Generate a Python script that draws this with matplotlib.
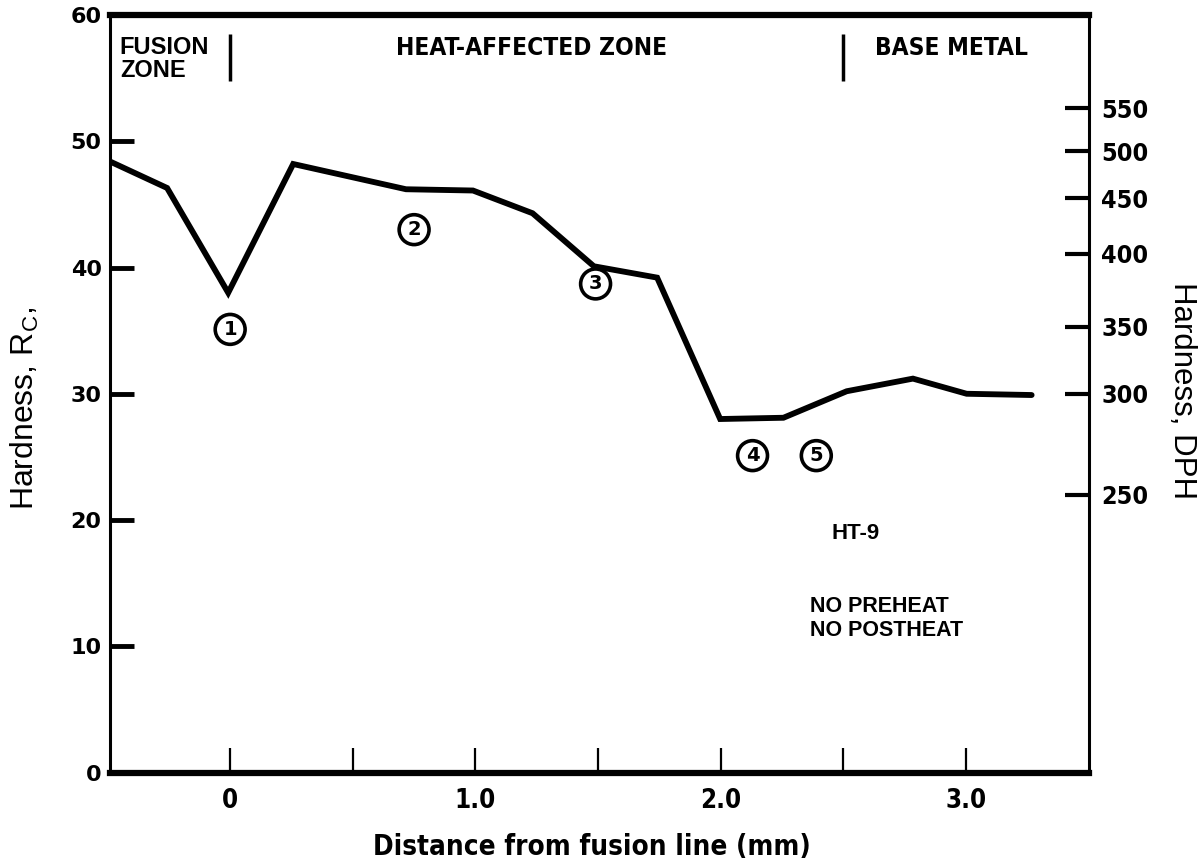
import matplotlib
matplotlib.use("Agg")
import matplotlib.pyplot as plt
from matplotlib.ticker import FixedLocator

# ---- data ----
distance_mm = [-0.49, -0.257, -0.008, 0.257, 0.717, 0.99, 1.233, 1.483, 1.741, 1.998, 2.256, 2.514, 2.784, 3.003, 3.268]
hardness_rc = [48.4, 46.3, 38.0, 48.2, 46.2, 46.1, 44.3, 40.1, 39.2, 28.0, 28.1, 30.2, 31.2, 30.0, 29.9]

x_ticks_major = [0, 1.0, 2.0, 3.0]
x_tick_labels = ["0", "1.0", "2.0", "3.0"]
x_ticks_minor = [0.5, 1.5, 2.5]
y_ticks = [0, 10, 20, 30, 40, 50, 60]

dph_labels = ["250", "300", "350", "400", "450", "500", "550"]
dph_rc_positions = [22.0, 30.0, 35.3, 41.1, 45.5, 49.2, 52.6]

zone_bounds = [0.0, 2.5]

marker_labels = ["1", "2", "3", "4", "5"]
marker_x = [0.0, 0.75, 1.49, 2.13, 2.39]
marker_y = [35.1, 43.0, 38.7, 25.1, 25.1]

BOLDF = ["DejaVu Sans"]
ARIAL = ["Liberation Sans", "DejaVu Sans"]

fig = plt.figure(figsize=(12.02, 8.64), dpi=100)
ax = fig.add_axes([0.0915, 0.1059, 0.9056 - 0.0915, 0.9826 - 0.1059])

ax.plot(distance_mm, hardness_rc, color="black", lw=4.2, solid_joinstyle="miter", solid_capstyle="round")

ax.set_xlim(-0.49, 3.5)
ax.set_ylim(0, 60)

# spines
ax.spines["top"].set_linewidth(4.5)
ax.spines["bottom"].set_linewidth(4.5)
ax.spines["left"].set_linewidth(2.2)
ax.spines["right"].set_linewidth(2.2)

# x ticks
ax.xaxis.set_major_locator(FixedLocator(x_ticks_major))
ax.xaxis.set_minor_locator(FixedLocator(x_ticks_minor))
ax.set_xticklabels(x_tick_labels, fontfamily=BOLDF, fontweight="bold", fontsize=18.5, fontstretch="condensed")
ax.tick_params(axis="x", which="both", direction="in", length=18, width=1.6, pad=11)

# left y ticks
ax.set_yticks(y_ticks)
ax.set_yticklabels([str(v) for v in y_ticks], fontfamily=BOLDF, fontweight="heavy", fontsize=16)
ax.tick_params(axis="y", direction="in", length=17, width=3.5, pad=6)

# right DPH axis
ax2 = ax.twinx()
ax2.set_ylim(ax.get_ylim())
ax2.set_yticks(dph_rc_positions)
ax2.set_yticklabels(dph_labels, fontfamily=BOLDF, fontweight="bold", fontsize=18, fontstretch="condensed")
ax2.tick_params(axis="y", direction="in", length=17, width=3.0, pad=9)
for s in ax2.spines.values():
    s.set_visible(False)

# axis labels
ax.set_xlabel("Distance from fusion line (mm)", fontfamily=BOLDF, fontweight="bold", fontsize=20,
              fontstretch="condensed")
ax.xaxis.set_label_coords(0.4926, -0.080)
ax.set_ylabel("Hardness, R$_\\mathregular{C}$,", fontfamily=ARIAL, fontsize=23)
ax.yaxis.set_label_coords(-0.070, 0.481)
fig.text(1182 / 1202, 1 - 390 / 864, "Hardness, DPH", fontfamily=ARIAL, fontsize=22.5,
         rotation=-90, ha="center", va="center")

# zone annotations
ax.vlines(zone_bounds, 54.8, 58.5, color="black", lw=2.5)
ax.text(-0.45, 58.3, "FUSION\nZONE", fontfamily=ARIAL, fontweight="bold", fontsize=17,
        ha="left", va="top", linespacing=0.95)
ax.text(1.23, 58.3, "HEAT-AFFECTED ZONE", fontfamily=BOLDF, fontweight="bold", fontsize=17.6,
        ha="center", va="top", fontstretch="condensed")
ax.text(2.63, 58.3, "BASE METAL", fontfamily=BOLDF, fontweight="bold", fontsize=17.6,
        ha="left", va="top", fontstretch="condensed")

ax.text(2.45, 18.9, "HT-9", fontfamily=ARIAL, fontweight="bold", fontsize=16, ha="left", va="center")
ax.text(2.365, 12.2, "NO PREHEAT\nNO POSTHEAT", fontfamily=ARIAL, fontweight="bold", fontsize=15.5,
        ha="left", va="center", linespacing=1.15)

# numbered circles
for lab, mx, my in zip(marker_labels, marker_x, marker_y):
    ax.text(mx, my, lab, fontfamily=BOLDF, fontweight="bold", fontsize=14,
            ha="center", va="center",
            bbox=dict(boxstyle="circle,pad=0.28", fc="white", ec="black", lw=2.6))

fig.savefig("out.png", dpi=100)
